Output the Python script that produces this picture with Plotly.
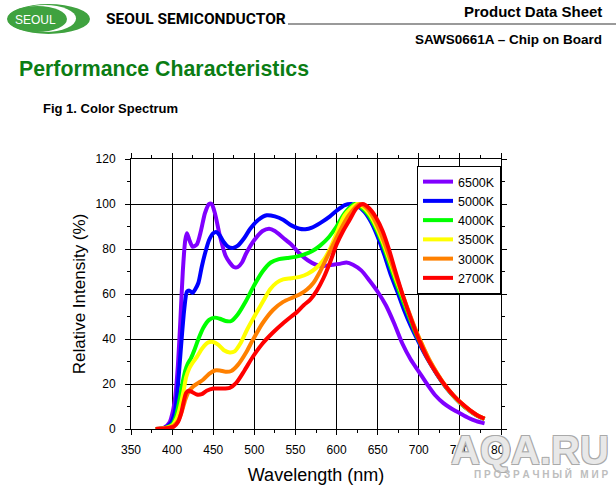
import plotly.graph_objects as go

# ---------------- data ----------------
series_names = ["6500K", "5000K", "4000K", "3500K", "3000K", "2700K"]
series_colors = ["#8000ff", "#0000ff", "#00ff00", "#ffff00", "#ff8000", "#ff0000"]

wl_6500 = [380, 390, 397, 401, 404, 407, 410, 413, 416, 418, 421, 425, 430, 435, 440, 445, 448, 452,
           458, 465, 470, 475, 480, 485, 490, 500, 510, 518, 525, 535, 545, 555, 565, 575, 585, 595,
           605, 612, 620, 630, 640, 650, 660, 670, 680, 690, 700, 710, 720, 730, 740, 750, 760, 770, 780]
val_6500 = [0, 0.5, 3, 8, 15, 28, 48, 70, 84, 87, 84, 81, 82, 88, 96, 100, 100, 96,
            86, 77, 74, 72, 72, 74, 78, 84, 88, 89, 88, 85, 82, 78, 75, 73, 72.5, 73,
            73.5, 74, 73, 70.5, 66, 61, 55, 47, 38, 31, 25.5, 20, 15, 11.5, 9, 7, 5, 3.5, 2.5]

wl_5000 = [380, 390, 398, 403, 406, 409, 412, 415, 418, 421, 425, 428, 432, 436, 440, 445, 450, 454,
           458, 463, 468, 474, 480, 488, 495, 505, 515, 525, 535, 545, 555, 562, 570, 580, 592, 600,
           610, 618, 626, 634, 642, 650, 658, 666, 674, 682, 690, 700, 710, 720, 730, 740, 750, 760,
           770, 780]
val_5000 = [0, 0.4, 2.5, 7, 15, 28, 42, 54, 61, 61.5, 60.5, 62, 65, 72, 78, 84, 87, 87.5,
            86, 83, 81, 80.5, 81.5, 85, 89, 93, 95, 94.5, 93, 90.5, 89, 88.8, 89.5, 91.5, 94.5, 97,
            99.5, 100, 99, 96.5, 92, 85.5, 77.5, 68.5, 61, 53, 46, 38.5, 31.5, 25.5, 20, 15.5, 11.7, 8.6,
            6.1, 4.4]

wl_4000 = [380, 390, 400, 405, 409, 413, 416, 419, 423, 427, 432, 438, 445, 452, 458, 465, 472, 480,
           490, 500, 510, 520, 530, 540, 550, 560, 570, 580, 590, 600, 610, 622, 630, 638, 646, 654,
           662, 670, 678, 686, 694, 702, 710, 720, 730, 740, 750, 760, 770, 780]
val_4000 = [0, 0.3, 2, 6, 13, 21, 26, 29, 31.5, 35, 40, 45, 48.5, 49.5, 49, 48, 48, 51,
            57, 64, 70, 74, 75.5, 76, 76.5, 77.5, 79, 81.5, 85, 90, 96, 100, 98.5, 95.5, 90.5, 84,
            76, 67.5, 59.5, 52, 44.5, 38, 32, 25.8, 20.2, 15.6, 11.8, 8.7, 6.2, 4.5]

wl_3500 = [380, 390, 400, 406, 410, 414, 417, 421, 425, 430, 437, 444, 450, 456, 463, 470, 476, 483,
           491, 500, 511, 519, 527, 535, 545, 555, 565, 575, 584, 592, 600, 610, 625, 633, 641, 649,
           657, 665, 673, 680, 688, 696, 704, 712, 720, 730, 740, 750, 760, 770, 780]
val_3500 = [0, 0.3, 1.5, 5, 10, 17, 23, 27, 29.5, 32, 36, 38.5, 38.7, 37.5, 35, 34, 34.5, 38,
            44, 50, 57, 62, 65, 66.5, 67, 67.6, 69, 71.5, 75, 80, 87, 95, 100, 98.5, 95, 89.5,
            82.5, 74.5, 66, 59.5, 51.5, 44, 37.5, 31, 26, 20.3, 15.7, 11.9, 8.7, 6.2, 4.5]

wl_3000 = [380, 392, 402, 408, 412, 416, 420, 426, 432, 438, 445, 452, 458, 465, 472, 480, 490, 498,
           510, 523, 535, 547, 556, 564, 572, 580, 588, 596, 604, 615, 628, 636, 644, 652, 660, 668,
           676, 682, 690, 698, 706, 714, 722, 732, 742, 752, 762, 772, 780]
val_3000 = [0, 0.3, 1.5, 4, 8, 13, 16.5, 19, 20.5, 22, 24.5, 26, 26, 25.5, 25.8, 28.5, 34, 39.5,
            47, 53, 56.5, 58.5, 60, 62, 65, 70, 76, 82, 88, 95, 100, 98.5, 94.5, 88.5, 81, 72.5,
            64, 58, 50, 42.5, 36, 30, 25, 19.5, 15, 11.4, 8.4, 5.9, 4.6]

wl_2700 = [380, 392, 402, 407, 411, 414, 417, 420, 424, 430, 436, 442, 450, 460, 470, 478, 488, 498,
           510, 523, 535, 545, 552, 560, 568, 576, 584, 592, 600, 608, 616, 624, 632, 640, 648, 656,
           664, 672, 680, 688, 696, 704, 712, 722, 732, 742, 752, 762, 772, 780]
val_2700 = [0, 0.3, 1, 3, 7, 12, 16, 17, 16.5, 15.3, 15.5, 17, 18, 18, 18.3, 20.5, 26, 32,
            38, 43, 47, 50, 52, 55, 57.5, 61.5, 67, 74, 82, 88, 93, 98, 100, 98, 94, 88,
            79.5, 69.5, 60, 51.5, 43.5, 36.5, 30.5, 24.5, 19.3, 15, 11.4, 8.4, 5.9, 4.6]

x_ticks = [350, 400, 450, 500, 550, 600, 650, 700, 750, 800]
y_ticks = [0, 20, 40, 60, 80, 100, 120]

series_x = [wl_6500, wl_5000, wl_4000, wl_3500, wl_3000, wl_2700]
series_y = [val_6500, val_5000, val_4000, val_3500, val_3000, val_2700]

# ---------------- layout helpers (page pixels -> paper) ----------------
W, H = 616, 490
L, R, T, B = 131, 501, 159, 429


def px(x):
    return (x - L) / (R - L)


def py(y):
    return (B - y) / (B - T)


FONT = "Liberation Sans, Arial, sans-serif"

fig = go.Figure()
for name, col, xs, ys in zip(series_names, series_colors, series_x, series_y):
    fig.add_trace(go.Scatter(x=xs, y=ys, mode="lines", name=name,
                             line=dict(color=col, width=4, shape="spline", smoothing=0.7)))

axis_common = dict(showline=True, linecolor="black", linewidth=1, mirror="ticks",
                   showgrid=True, gridcolor="black", gridwidth=1, zeroline=False,
                   ticks="outside", ticklen=5, tickcolor="black", tickwidth=1, automargin=False,
                   tickfont=dict(family=FONT, size=12, color="black"))

fig.update_layout(
    width=W, height=H,
    margin=dict(l=L, r=W - R, t=T, b=H - B, pad=0, autoexpand=False),
    paper_bgcolor="white", plot_bgcolor="white",
    font=dict(family=FONT, color="black"),
    xaxis=dict(range=[350, 800], tickvals=x_ticks, ticklabelstandoff=5,
               minor=dict(dtick=25, ticks="outside", ticklen=3, tickcolor="black", showgrid=False),
               title=dict(text="Wavelength (nm)", font=dict(family=FONT, size=18), standoff=11),
               **axis_common),
    yaxis=dict(range=[0, 120], tickvals=y_ticks, ticklabelstandoff=7,
               minor=dict(dtick=10, ticks="outside", ticklen=3, tickcolor="black", showgrid=False),
               title=dict(text="Relative Intensity (%)", font=dict(family=FONT, size=17), standoff=5),
               **axis_common),
    legend=dict(x=1, xanchor="right", y=py(166), yanchor="top",
                bgcolor="white", bordercolor="black", borderwidth=1,
                font=dict(family=FONT, size=12.5, color="black"),
                itemwidth=30, tracegroupgap=0),
    showlegend=True,
)

# ---------------- header decoration ----------------
shapes = [
    dict(type="circle", xref="paper", yref="paper", x0=px(7), x1=px(90), y0=py(34), y1=py(4),
         fillcolor="#3fa23f", line=dict(width=0)),
    dict(type="circle", xref="paper", yref="paper", x0=px(14), x1=px(76), y0=py(32), y1=py(5),
         fillcolor="white", line=dict(width=0)),
    dict(type="circle", xref="paper", yref="paper", x0=px(8), x1=px(67), y0=py(32), y1=py(6),
         fillcolor="#3fa23f", line=dict(width=0)),
    dict(type="line", xref="paper", yref="paper", x0=px(288), x1=px(616), y0=py(24), y1=py(24),
         line=dict(color="#9a9a9a", width=2)),
]
fig.update_layout(shapes=shapes)

ann = [
    dict(text="SEOUL", x=px(35), y=py(20), font=dict(family=FONT, size=12, color="white"),
         xanchor="center", yanchor="middle"),
    dict(text="<b>SEOUL SEMICONDUCTOR</b>", x=px(104), y=py(19),
         font=dict(family="Roboto, Liberation Sans, sans-serif", size=15.5, color="black"),
         xanchor="left", yanchor="middle"),
    dict(text="<b>Product Data Sheet</b>", x=px(604), y=py(12),
         font=dict(family=FONT, size=15, color="black"), xanchor="right", yanchor="middle"),
    dict(text="<b>SAWS0661A – Chip on Board</b>", x=px(604), y=py(39),
         font=dict(family=FONT, size=13.5, color="black"), xanchor="right", yanchor="middle"),
    dict(text="<b>Performance Characteristics</b>", x=px(17), y=py(69),
         font=dict(family=FONT, size=21.3, color="#0b7d14"), xanchor="left", yanchor="middle"),
    dict(text="<b>Fig 1. Color Spectrum</b>", x=px(41), y=py(108),
         font=dict(family=FONT, size=13, color="black"), xanchor="left", yanchor="middle"),
    dict(text="<b>AQA.RU</b>", x=px(611), y=py(450),
         font=dict(family=FONT, size=40, color="#e8e8e8",
                   shadow="1px 1px 0 #aaaaaa, -1px -1px 0 #aaaaaa, 1px -1px 0 #aaaaaa, -1px 1px 0 #aaaaaa"),
         xanchor="right", yanchor="middle"),
    dict(text="<b>П Р О З Р А Ч Н Ы Й   М И Р</b>", x=px(610), y=py(474),
         font=dict(family=FONT, size=10, color="#bdbdbd"), xanchor="right", yanchor="middle"),
]
for a in ann:
    a.update(xref="paper", yref="paper", showarrow=False)
fig.update_layout(annotations=ann)

fig.write_html("out.html")
